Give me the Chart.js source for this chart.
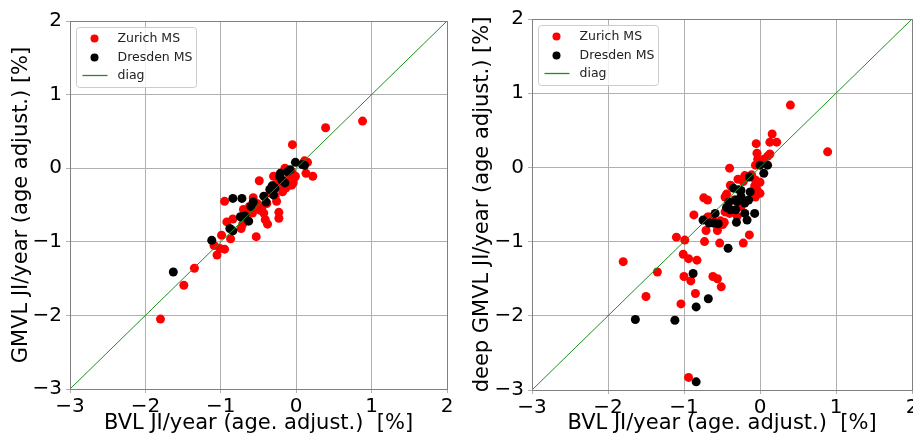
<!DOCTYPE html>
<html>
<head>
<meta charset="utf-8">
<script src="https://cdn.jsdelivr.net/npm/chart.js@4.4.1/dist/chart.umd.min.js"></script>
<style>
  html, body { margin:0; padding:0; background:#fff; overflow:hidden; width:913px; height:436px; }
  .box { position:absolute; top:0; }
</style>
</head>
<body>
<div class="box" style="left:0px"><canvas id="left" width="457" height="436"></canvas></div>
<div class="box" style="left:470px"><canvas id="right" width="452" height="436"></canvas></div>
<script>
// axis ticks (both panels)
const tickValues = [-3, -2, -1, 0, 1, 2];
const diagX = [-3, 2];
const diagY = [-3, 2];

// left panel: GMVL vs BVL
const leftZurichX = [-1.80,-1.49,-1.35,-1.09,-1.05,-0.99,-1.01,-0.95,-0.87,-0.92,-0.84,-0.95,-0.73,-0.71,-0.70,-0.53,-0.49,-0.57,-0.52,-0.48,-0.43,-0.41,-0.38,-0.39,-0.28,-0.26,-0.23,-0.23,-0.18,-0.12,-0.06,-0.01,-0.04,-0.15,-0.05,0.11,0.15,0.13,0.22,0.39,0.88,-0.30,-0.21,-0.34,-0.58,-0.65,-0.45,-0.55,-0.62,-0.17,-0.06,-0.27,-0.10,-0.03,-0.14];
const leftZurichY = [-2.05,-1.59,-1.36,-1.05,-1.18,-0.91,-1.09,-1.10,-0.96,-0.73,-0.69,-0.45,-0.82,-0.76,-0.56,-0.93,-0.17,-0.40,-0.48,-0.57,-0.61,-0.70,-0.76,-0.48,-0.38,-0.45,-0.60,-0.68,-0.32,-0.25,-0.23,-0.11,-0.20,0.00,0.32,0.10,0.08,-0.07,-0.11,0.55,0.64,-0.11,-0.18,-0.34,-0.61,-0.57,-0.52,-0.55,-0.52,-0.29,-0.05,-0.22,-0.15,-0.14,-0.27];
const leftDresdenX = [-1.63,-1.12,-0.88,-0.84,-0.84,-0.72,-0.74,-0.63,-0.68,-0.60,-0.57,-0.43,-0.40,-0.35,-0.32,-0.28,-0.22,-0.19,-0.15,-0.12,-0.08,-0.01,0.08,0.11,-0.30,-0.21];
const leftDresdenY = [-1.41,-0.98,-0.82,-0.85,-0.41,-0.41,-0.66,-0.72,-0.65,-0.52,-0.46,-0.38,-0.46,-0.29,-0.24,-0.27,-0.11,-0.16,-0.20,-0.05,-0.02,0.08,0.05,0.04,-0.36,-0.07];

// right panel: deep GMVL vs BVL
const rightZurichX = [0.40,0.89,0.16,0.13,0.22,-0.05,-0.04,-0.03,0.10,0.13,-0.06,-0.40,-0.17,-0.11,-0.06,0.00,-0.39,-0.22,-0.04,0.00,-0.06,-0.46,-0.74,-0.44,-0.39,-0.46,-0.61,-0.69,-0.87,-0.71,-0.56,-0.49,-0.52,-0.30,-1.10,-0.99,-0.73,-0.53,-0.22,-0.14,-1.01,-0.94,-0.83,-1.80,-1.35,-1.00,-0.91,-0.62,-0.56,-0.51,-1.50,-0.85,-1.04,-0.94,-0.69,-0.34,-0.25,-0.45,-0.38,-0.29,-0.20,-0.12,-0.07,-0.47,-0.56,-0.40,-0.67,0.05];
const rightZurichY = [0.84,0.21,0.45,0.34,0.34,0.32,0.19,0.11,0.15,0.18,0.03,-0.01,-0.13,-0.10,-0.17,-0.20,-0.24,-0.19,-0.30,-0.35,-0.40,-0.40,-0.41,-0.36,-0.57,-0.60,-0.72,-0.67,-0.64,-0.85,-0.85,-0.77,-0.72,-0.66,-0.94,-0.98,-1.00,-1.02,-1.02,-0.91,-1.17,-1.23,-1.25,-1.27,-1.41,-1.47,-1.53,-1.47,-1.50,-1.61,-1.74,-1.70,-1.84,-2.83,-0.44,-0.44,-0.53,-0.39,-0.25,-0.16,-0.11,-0.11,-0.25,-0.74,-0.79,-0.62,-0.67,0.11];
const rightDresdenX = [-1.64,-1.12,-0.84,-0.68,-0.88,-0.84,-0.42,-0.07,-0.17,-0.31,-0.75,-0.67,-0.59,-0.61,-0.55,-0.44,-0.39,-0.32,-0.30,-0.32,-0.20,-0.20,-0.15,-0.25,-0.35,-0.25,-0.13,-0.14,0.00,0.10,0.05,-0.28,-0.41];
const rightDresdenY = [-2.05,-2.06,-1.88,-1.77,-1.43,-2.89,-1.09,-0.62,-0.71,-0.74,-0.71,-0.75,-0.62,-0.75,-0.76,-0.54,-0.57,-0.44,-0.46,-0.57,-0.62,-0.48,-0.44,-0.39,-0.28,-0.31,-0.33,-0.13,0.03,0.03,-0.08,-0.30,-0.47];

const seriesNames = ['Zurich MS', 'Dresden MS', 'diag'];
const xTitle = 'BVL JI/year (age. adjust.)  [%]';

const FONT = 'DejaVu Sans';
const GRID = '#b0b0b0';
const FRAME = '#808080';
const DIAG = '#1f8f1f';

function pts(xs, ys){ return xs.map((x,i)=>({x:x, y:ys[i]})); }
function fmt(v){ return v < 0 ? '\u2212' + Math.abs(v) : String(v); }

// frame + legend drawn inside the plot area, matplotlib style
const framePlugin = {
  id:'frameLegend',
  afterDraw(chart){
    const ctx = chart.ctx, a = chart.chartArea;
    ctx.save();
    ctx.strokeStyle = FRAME; ctx.lineWidth = 1;
    ctx.strokeRect(Math.round(a.left)+0.5, Math.round(a.top)+0.5, Math.round(a.right-a.left), Math.round(a.bottom-a.top));
    // legend
    const bx = a.left + 6.5, by = a.top + 6.5, bw = 120, bh = 60, r = 3;
    ctx.beginPath();
    ctx.moveTo(bx+r, by); ctx.lineTo(bx+bw-r, by); ctx.arcTo(bx+bw, by, bx+bw, by+r, r);
    ctx.lineTo(bx+bw, by+bh-r); ctx.arcTo(bx+bw, by+bh, bx+bw-r, by+bh, r);
    ctx.lineTo(bx+r, by+bh); ctx.arcTo(bx, by+bh, bx, by+bh-r, r);
    ctx.lineTo(bx, by+r); ctx.arcTo(bx, by, bx+r, by, r);
    ctx.closePath();
    ctx.fillStyle = 'rgba(255,255,255,0.8)'; ctx.fill();
    ctx.strokeStyle = '#cccccc'; ctx.stroke();
    const rows = [by+11, by+30, by+48];
    ctx.fillStyle = '#ff0000';
    ctx.beginPath(); ctx.arc(bx+18, rows[0], 4, 0, Math.PI*2); ctx.fill();
    ctx.fillStyle = '#000000';
    ctx.beginPath(); ctx.arc(bx+18, rows[1], 4, 0, Math.PI*2); ctx.fill();
    ctx.strokeStyle = DIAG; ctx.lineWidth = 1.3;
    ctx.beginPath(); ctx.moveTo(bx+6, rows[2]); ctx.lineTo(bx+31, rows[2]); ctx.stroke();
    ctx.fillStyle = '#222'; ctx.font = '12.5px "' + FONT + '"'; ctx.textBaseline = 'middle'; ctx.textAlign = 'left';
    seriesNames.forEach((n,i)=> ctx.fillText(n, bx+41, rows[i]));
    ctx.restore();
  }
};

function buildChart(id, zx, zy, dx, dy, yTitle, g){
  const tickFont = {family: FONT, size: 20};
  const titleFont = {family: FONT, size: 21};
  new Chart(document.getElementById(id), {
    type: 'scatter',
    data: {
      datasets: [
        {label: seriesNames[2], type:'line', data: pts(diagX, diagY), borderColor:DIAG, borderWidth:1, pointRadius:0, fill:false, order:0},
        {label: seriesNames[1], data: pts(dx, dy), backgroundColor:'#000000', borderWidth:0, pointRadius:4.5, order:1},
        {label: seriesNames[0], data: pts(zx, zy), backgroundColor:'#ff0000', borderWidth:0, pointRadius:4.5, order:2}
      ]
    },
    options: {
      responsive:false, animation:false, devicePixelRatio:1,
      layout:{padding:{top:g.top, left:0, right:10, bottom:0}},
      plugins:{legend:{display:false}, tooltip:{enabled:false}},
      scales:{
        x:{type:'linear', min:-3, max:2,
           afterBuildTicks: s => { s.ticks = tickValues.map(v=>({value:v})); },
           afterFit: s => { s.height = g.xh; },
           ticks:{font:tickFont, color:'#000', padding:2, maxRotation:0, callback: fmt},
           grid:{color:GRID, lineWidth:1, tickLength:4},
           border:{display:false},
           title:{display:true, text:xTitle, font:titleFont, color:'#000', padding:{top:0, bottom:0}}},
        y:{type:'linear', min:-3, max:2,
           afterBuildTicks: s => { s.ticks = tickValues.map(v=>({value:v})); },
           afterFit: s => { s.width = g.yw; },
           ticks:{font:tickFont, color:'#000', padding:4, callback: fmt},
           grid:{color:GRID, lineWidth:1, tickLength:4},
           border:{display:false},
           title:{display:true, text:yTitle, font:titleFont, color:'#000', padding:{top:g.tpad, bottom:0}}}
      }
    },
    plugins:[framePlugin]
  });
}

buildChart('left', leftZurichX, leftZurichY, leftDresdenX, leftDresdenY,
  'GMVL JI/year (age adjust.) [%]', {top:21, xh:47, yw:70, tpad:9});
buildChart('right', rightZurichX, rightZurichY, rightDresdenX, rightDresdenY,
  'deep GMVL JI/year (age adjust.) [%]', {top:19, xh:46, yw:62, tpad:0});
</script>
</body>
</html>
